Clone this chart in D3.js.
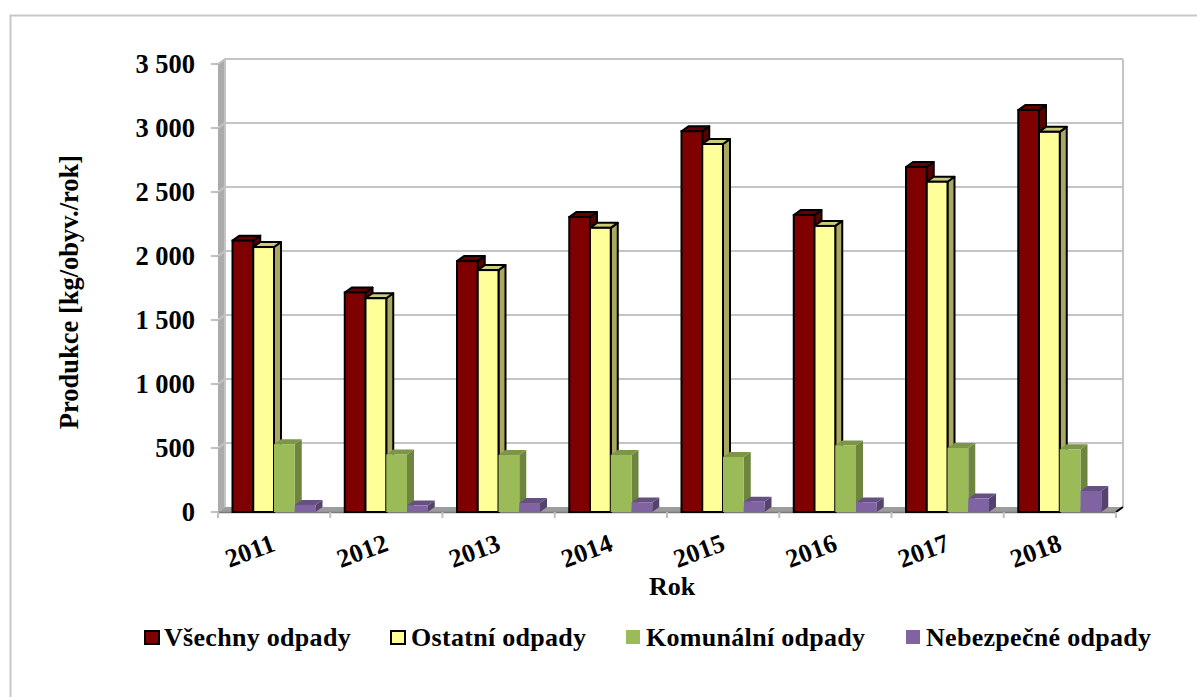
<!DOCTYPE html>
<html><head><meta charset="utf-8">
<script src="https://cdnjs.cloudflare.com/ajax/libs/d3/7.8.5/d3.min.js"></script>
<style>html,body{margin:0;background:#fff}svg{display:block}text{font-family:"Liberation Serif",serif;font-weight:bold;fill:#000}</style>
</head><body><svg id="c" width="1197" height="697"></svg>
<script>
const years=["2011","2012","2013","2014","2015","2016","2017","2018"];
const seriesNames=["Všechny odpady","Ostatní odpady","Komunální odpady","Nebezpečné odpady"];
const vsechny=[2120,1715,1960,2305,2975,2320,2695,3140];
const ostatni=[2070,1670,1890,2220,2875,2235,2580,2970];
const komunalni=[530,450,445,445,430,520,500,490];
const nebezpecne=[55,50,70,75,80,75,105,165];
const yTicks=[0,500,1000,1500,2000,2500,3000,3500];
const tickLabels=["0","500","1 000","1 500","2 000","2 500","3 000","3 500"];
const values=[vsechny,ostatni,komunalni,nebezpecne];
const front=["#7F0000","#FFFF99","#9BBB59","#8064A2"];
const top3d=["#650000","#CCCC7A","#7C9547","#665082"];
const side=["#5A0000","#A8A860","#6E8540","#56426F"];
const strokes=["#000","#000","none","none"];

const svg=d3.select("#c");
const y=d3.scaleLinear().domain([0,3500]).range([512,64]);
const x=d3.scaleBand().domain(years).range([218,1116]).paddingInner(0).paddingOuter(0);
const inner=d3.scaleBand().domain(d3.range(4)).range([14.5,97.5]);
const dx=7,dy=5;
const poly=p=>p.map(a=>a.join(",")).join(" ");

svg.append("path").attr("d","M10.5,697V15.5H1197").attr("fill","none").attr("stroke","#C8C8C8").attr("stroke-width",2);

// walls
const wall=svg.append("g");
wall.append("polygon").attr("points",poly([[218,y(0)],[218+dx,y(0)-dy],[218+dx,y(3500)-dy],[218,y(3500)]])).attr("fill","#ABABAB");
wall.append("polygon").attr("points",poly([[218,y(0)],[1116,y(0)],[1116+dx,y(0)-dy],[218+dx,y(0)-dy]])).attr("fill","#9C9C9C");
yTicks.forEach(t=>{
  wall.append("path").attr("d",`M${218},${y(t)}L${218+dx},${y(t)-dy}L${1123},${y(t)-dy}`).attr("fill","none").attr("stroke",t==0?"none":"#C4C4C4").attr("stroke-width",2);
  wall.append("line").attr("x1",211).attr("x2",218).attr("y1",y(t)).attr("y2",y(t)).attr("stroke","#BFBFBF").attr("stroke-width",2);
});
wall.append("line").attr("x1",1123).attr("x2",1123).attr("y1",y(3500)-dy).attr("y2",y(0)-dy).attr("stroke","#C4C4C4").attr("stroke-width",2);
wall.append("line").attr("x1",218+dx).attr("x2",218+dx).attr("y1",y(3500)-dy).attr("y2",y(0)-dy).attr("stroke","#C4C4C4").attr("stroke-width",2);
wall.append("line").attr("x1",218).attr("x2",1116).attr("y1",y(0)+.5).attr("y2",y(0)+.5).attr("stroke","#7A7A7A").attr("stroke-width",1.5);
wall.append("path").attr("d",`M1116,${y(0)}L1123,${y(0)-5}`).attr("stroke","#000").attr("stroke-width",2);
[...years.map(d=>x(d)),1116].forEach(px=>wall.append("line").attr("x1",px).attr("x2",px).attr("y1",y(0)).attr("y2",y(0)+6).attr("stroke","#BFBFBF").attr("stroke-width",2));

// bars
years.forEach((yr,i)=>{
  const g=svg.append("g");
  values.forEach((vals,s)=>{
    const bx=x(yr)+inner(s), w=inner.bandwidth(), ty=y(vals[i]), by=y(0);
    const st=strokes[s], sw=st=="none"?0:2;
    g.append("polygon").attr("points",poly([[bx+w,ty],[bx+w+dx,ty-dy],[bx+w+dx,by-dy],[bx+w,by]])).attr("fill",side[s]).attr("stroke",st).attr("stroke-width",sw).attr("stroke-linejoin","round");
    g.append("polygon").attr("points",poly([[bx,ty],[bx+dx,ty-dy],[bx+w+dx,ty-dy],[bx+w,ty]])).attr("fill",top3d[s]).attr("stroke",st).attr("stroke-width",sw).attr("stroke-linejoin","round");
    g.append("rect").attr("x",bx).attr("y",ty).attr("width",w).attr("height",by-ty).attr("fill",front[s]).attr("stroke",st).attr("stroke-width",sw);
  });
});

// labels
yTicks.forEach((t,i)=>svg.append("text").attr("x",195).attr("y",y(t)+9).attr("text-anchor","end").attr("font-size",26.5).text(tickLabels[i]));
years.forEach(yr=>svg.append("text").attr("transform",`translate(${x(yr)+35},${559}) rotate(-20)`).attr("text-anchor","middle").attr("font-size",26).text(yr));
svg.append("text").attr("x",672).attr("y",595).attr("text-anchor","middle").attr("font-size",26).text("Rok");
svg.append("text").attr("transform","translate(78,292) rotate(-90)").attr("text-anchor","middle").attr("font-size",26.5).text("Produkce [kg/obyv./rok]");

const legX=[144,390,626,906], legT=[164,411,646,926];
seriesNames.forEach((n,s)=>{
  const st=strokes[s];
  svg.append("rect").attr("x",legX[s]+(st=="none"?0:1)).attr("y",st=="none"?630:631).attr("width",14).attr("height",st=="none"?14:13).attr("fill",front[s]).attr("stroke",st).attr("stroke-width",st=="none"?0:2);
  svg.append("text").attr("x",legT[s]).attr("y",646).attr("font-size",26).attr("letter-spacing",.3).text(n);
});
</script></body></html>
